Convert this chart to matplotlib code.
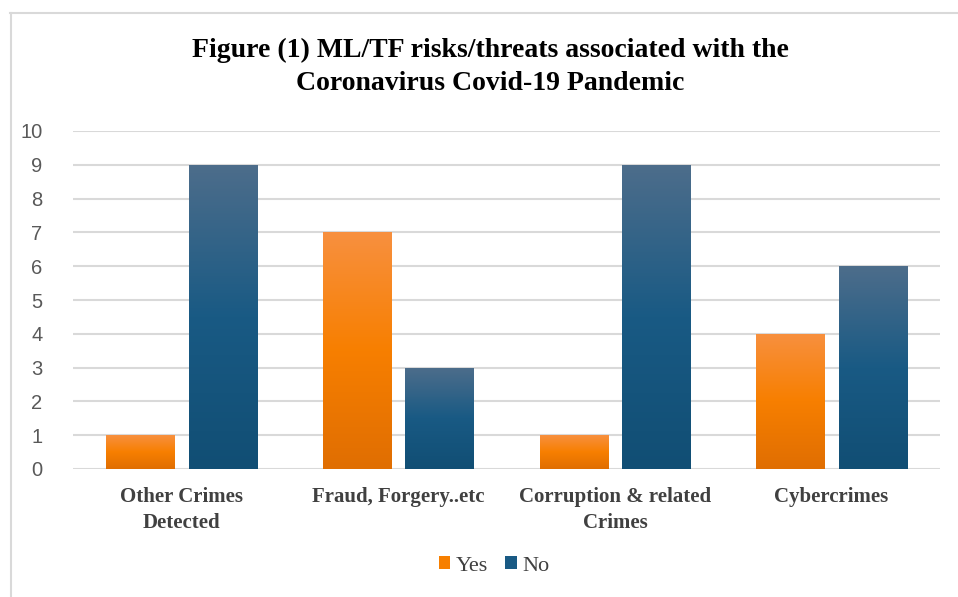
import numpy as np
import matplotlib
matplotlib.use("Agg")
import matplotlib.pyplot as plt
from matplotlib.colors import LinearSegmentedColormap
from matplotlib.lines import Line2D
from matplotlib.patches import Patch

categories = ["Other Crimes\nDetected", "Fraud, Forgery..etc",
              "Corruption & related\nCrimes", "Cybercrimes"]
yes_vals = [1, 7, 1, 4]
no_vals = [9, 3, 9, 6]
series = ["Yes", "No"]

orange_cmap = LinearSegmentedColormap.from_list(
    "og", ["#e06e02", "#f77f00", "#f8903f"])
blue_cmap = LinearSegmentedColormap.from_list(
    "bg", ["#114e74", "#195a84", "#4d6d8b"])

fig = plt.figure(figsize=(9.58, 5.97), dpi=100)
ax = fig.add_axes([73 / 958, 1 - 469 / 597, (940 - 73) / 958, (469 - 131) / 597])

x = np.arange(len(categories))
width = 0.314
offset = 0.19


def gradient_bars(xs, vals, cmap):
    bars = ax.bar(xs, vals, width, color="none", zorder=3)
    grad = np.linspace(0, 1, 256).reshape(-1, 1)
    for b in bars:
        x0, y0 = b.get_x(), b.get_y()
        w, h = b.get_width(), b.get_height()
        im = ax.imshow(grad, cmap=cmap, aspect="auto", origin="lower",
                       extent=[x0, x0 + w, y0, y0 + h], zorder=3)
        im.set_clip_path(b)
    return bars


gradient_bars(x - offset, yes_vals, orange_cmap)
gradient_bars(x + offset, no_vals, blue_cmap)

ax.set_xlim(-0.5, len(categories) - 0.5)
ax.set_ylim(0, 10)
ax.set_yticks(range(0, 11))
ax.yaxis.grid(True, color="#d9d9d9", linewidth=1.5, zorder=0)
ax.set_axisbelow(True)
for s in ax.spines.values():
    s.set_visible(False)
ax.tick_params(axis="both", length=0)
ax.tick_params(axis="y", pad=22, labelsize=14.5, labelcolor="#595959")
for t in ax.get_yticklabels():
    t.set_fontfamily("Liberation Sans")

ax.set_xticks(x)
ax.set_xticklabels(categories, fontfamily="Liberation Serif", fontweight="bold",
                   fontsize=15, color="#404040", linespacing=1.4)
ax.tick_params(axis="x", pad=13)

fig.text(0.512, 1 - 67 / 597,
         "Figure (1) ML/TF risks/threats associated with the\nCoronavirus Covid-19 Pandemic",
         ha="center", va="center", fontfamily="Liberation Serif", fontweight="bold",
         fontsize=20, color="black", linespacing=1.45)

handles = [Patch(facecolor="#f77f00"), Patch(facecolor="#195a84")]
fig.legend(handles, series, loc="center", bbox_to_anchor=(494 / 958, 1 - 566 / 597),
           ncol=2, frameon=False, handlelength=0.5, handleheight=0.5,
           handletextpad=0.25, columnspacing=0.8,
           prop={"family": "Liberation Serif", "size": 16}, labelcolor="#404040")

# chart frame
fig.add_artist(Line2D([10.5 / 958, 10.5 / 958], [0, 1 - 13 / 597],
                      transform=fig.transFigure, color="#d9d9d9", linewidth=1.5))
fig.add_artist(Line2D([10 / 958, 1], [1 - 13 / 597, 1 - 13 / 597],
                      transform=fig.transFigure, color="#d9d9d9", linewidth=1.5))

fig.savefig("out.png", dpi=100)
